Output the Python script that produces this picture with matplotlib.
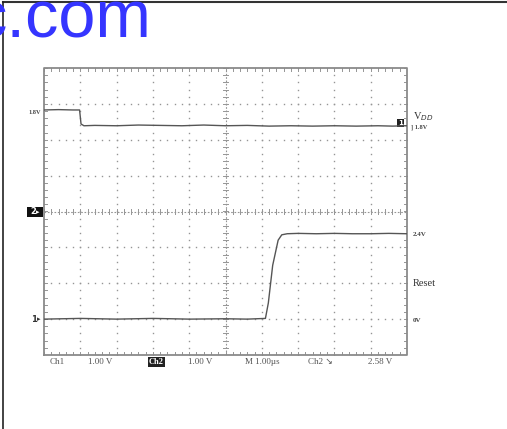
import numpy as np
import matplotlib
matplotlib.use("Agg")
import matplotlib.pyplot as plt

# time base: 1 us/div, trigger at centre (0 us)
t_vdd = [-5.0, -4.6, -4.2, -4.02, -3.98, -3.9, -3.6, -3.0, -2.4, -1.8, -1.2, -0.6, 0.0,
         0.6, 1.2, 1.8, 2.4, 3.0, 3.6, 4.2, 4.6, 5.0]
v_vdd = [1.83, 1.84, 1.83, 1.83, 1.44, 1.39, 1.40, 1.39, 1.41, 1.40, 1.39, 1.41, 1.39,
         1.40, 1.38, 1.39, 1.38, 1.39, 1.38, 1.39, 1.38, 1.39]

t_reset = [-5.0, -4.0, -3.0, -2.0, -1.0, 0.0, 0.6, 1.1, 1.18, 1.3, 1.45, 1.55, 1.7,
           2.0, 2.5, 3.0, 3.5, 4.0, 4.5, 5.0]
v_reset = [0.00, 0.02, 0.00, 0.02, 0.00, 0.01, 0.00, 0.02, 0.45, 1.50, 2.20, 2.35, 2.38,
           2.39, 2.38, 2.39, 2.38, 2.38, 2.39, 2.38]

ch1_offset = 1.0    # divisions
ch2_offset = -3.0
volts_per_div = 1.0

bottom_labels = ["Ch1", "1.00 V", "Ch2", "1.00 V", "M 1.00\u00b5s", "Ch2 \u2198", "2.58 V"]
bottom_x = [50, 88, 149, 188, 245, 308, 368]

serif = ["Liberation Serif", "DejaVu Sans"]

W, H = 507, 429
fig = plt.figure(figsize=(W / 100, H / 100), dpi=100)

# page layer in pixel coordinates
bg = fig.add_axes([0, 0, 1, 1])
bg.set_xlim(0, W)
bg.set_ylim(H, 0)
bg.axis("off")
bg.plot([3, W], [2, 2], color="#333333", lw=1.5)
bg.plot([3, 3], [2, H], color="#222222", lw=1.2)
bg.text(151, 37, "c.com", color="#3535ff", fontsize=48, family="Liberation Sans",
        ha="right", va="baseline", zorder=5)

# scope screen
L, R, T, B = 44, 407, 68, 355
ax = fig.add_axes([L / W, 1 - B / H, (R - L) / W, (B - T) / H])
ax.set_xlim(-5, 5)
ax.set_ylim(-4, 4)
ax.axis("off")

grid_c = "#959595"
fine = np.arange(-5, 5.01, 0.2)
fine_y = np.arange(-4, 4.01, 0.2)
for gx in range(-4, 5):
    if gx != 0:
        ax.plot(np.full_like(fine_y, gx), fine_y, ls="none", marker="s", ms=1.0,
                color=grid_c, mew=0)
for gy in range(-3, 4):
    if gy != 0:
        ax.plot(fine, np.full_like(fine, gy), ls="none", marker="s", ms=1.0,
                color=grid_c, mew=0)

# centre axes with ticks
ax.axhline(0, color=grid_c, lw=0.8, ls=(0, (1.5, 1.5)))
ax.axvline(0, color=grid_c, lw=0.8, ls=(0, (1.5, 1.5)))
tk_x, tk_y = 0.08, 0.08
for fx in fine:
    ax.plot([fx, fx], [-tk_y, tk_y], color=grid_c, lw=0.7)
    ax.plot([fx, fx], [-4, -4 + tk_y], color=grid_c, lw=0.7)
    ax.plot([fx, fx], [4, 4 - tk_y], color=grid_c, lw=0.7)
for fy in fine_y:
    ax.plot([-tk_x, tk_x], [fy, fy], color=grid_c, lw=0.7)
    ax.plot([-5, -5 + tk_x], [fy, fy], color=grid_c, lw=0.7)
    ax.plot([5, 5 - tk_x], [fy, fy], color=grid_c, lw=0.7)
ax.plot([-5, 5, 5, -5, -5], [-4, -4, 4, 4, -4], color="#8a8a8a", lw=1.3,
        clip_on=False)

# traces
ax.plot(t_vdd, np.array(v_vdd) / volts_per_div + ch1_offset, color="#555555", lw=1.0)
ax.plot(t_reset, np.array(v_reset) / volts_per_div + ch2_offset, color="#555555", lw=1.0)

# channel markers on the left
small = dict(family=serif, color="#444444", fontweight="bold")
bg.text(28, 112, "1.8V", fontsize=4.5, va="center", ha="left", **small)
bg.add_patch(plt.Rectangle((27, 207), 16, 10, fc="#111111", ec="none"))
bg.text(30, 212, "2", fontsize=6, va="center", ha="left", color="white",
        fontweight="bold", family="DejaVu Sans")
bg.text(36, 212, "\u25b8", fontsize=5, va="center", ha="left", color="white",
        family="DejaVu Sans")
bg.text(31, 319, "1", fontsize=6, va="center", ha="left", color="#333333",
        fontweight="bold", family="DejaVu Sans")
bg.text(37, 319, "\u25b8", fontsize=5, va="center", ha="left", color="#333333",
        family="DejaVu Sans")

# right-hand labels
bg.text(398, 123, "1", fontsize=5, va="center", ha="left", color="white",
        fontweight="bold", bbox=dict(boxstyle="square,pad=0.15", fc="#222222", ec="none"))
bg.text(413, 117, "V$_{DD}$", fontsize=7.5, va="center", ha="left",
        family=serif, color="#333333")
bg.text(411, 127, "] 1.8V", fontsize=4.5, va="center", ha="left", **small)
bg.text(413, 234, "2.4V", fontsize=5, va="center", ha="left", **small)
bg.text(413, 283, "Reset", fontsize=7.5, va="center", ha="left",
        family=serif, color="#333333")
bg.text(413, 320, "0V", fontsize=5, va="center", ha="left", **small)

# bottom readout
for lab, x in zip(bottom_labels, bottom_x):
    if lab == "Ch2" and x < 200:
        bg.text(x, 362, lab, fontsize=6, va="center", ha="left", color="white",
                family=serif, fontweight="bold",
                bbox=dict(boxstyle="square,pad=0.15", fc="#222222", ec="none"))
    else:
        bg.text(x, 362, lab, fontsize=6.5, va="center", ha="left",
                family=serif, color="#555555")

fig.savefig("out.png", dpi=100)
